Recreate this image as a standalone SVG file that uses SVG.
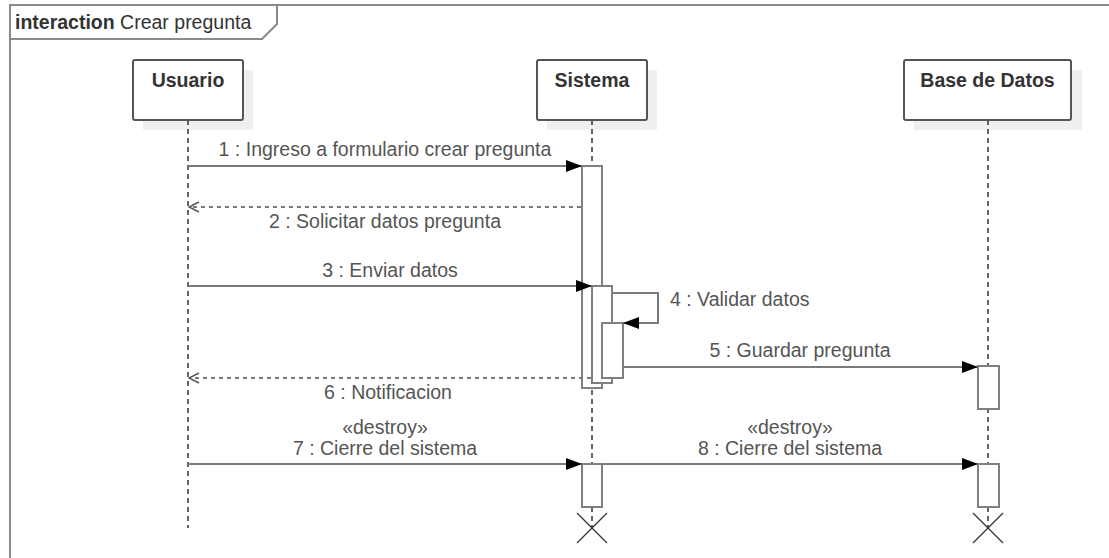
<svg xmlns="http://www.w3.org/2000/svg" width="1109" height="558" viewBox="0 0 1109 558">
<style>
  .frame{fill:none;stroke:#8a8a8a;stroke-width:2}
  .shadow{fill:#efefef}
  .head{fill:#fff;stroke:#555;stroke-width:2}
  .hl{font-family:"Liberation Sans",Arial,sans-serif;font-size:19.5px;font-weight:bold;fill:#333;text-anchor:middle}
  .life{stroke:#333;stroke-width:1.5;stroke-dasharray:5 4;fill:none}
  .act{fill:#fff;stroke:#808080;stroke-width:2}
  .msg{stroke:#7a7a7a;stroke-width:2;fill:none}
  .ret{stroke:#7a7a7a;stroke-width:2;fill:none;stroke-dasharray:4 4}
  .lbl{font-family:"Liberation Sans",Arial,sans-serif;font-size:19.5px;fill:#555;text-anchor:middle}
  .x{stroke:#333;stroke-width:1.2}
</style>
<defs>
  <marker id="filled" markerWidth="16" markerHeight="12" refX="16" refY="6" orient="auto" markerUnits="userSpaceOnUse">
    <path d="M0,0 L16,6 L0,12 Z" fill="#000"/>
  </marker>
  <marker id="open" markerWidth="12" markerHeight="12" refX="11" refY="6" orient="auto" markerUnits="userSpaceOnUse">
    <path d="M1,1 L11,6 L1,11" fill="none" stroke="#555" stroke-width="1.5"/>
  </marker>
</defs>
<rect width="1109" height="558" fill="#fff"/>
<g id="frame">
  <path class="frame" d="M10,558 V5 H1109"/>
  <path class="frame" d="M10,39 H262 L277,24 V5"/>
  <text x="15" y="29" font-family="Liberation Sans,Arial,sans-serif" font-size="19.5" fill="#333"><tspan font-weight="bold">interaction</tspan> Crear pregunta</text>
</g>
<g id="usuario">
  <rect class="shadow" x="143" y="70" width="110" height="60"/>
  <line class="life" x1="188" y1="120" x2="188" y2="528"/>
  <rect class="head" x="133" y="60" width="110" height="60" rx="2"/>
  <text class="hl" x="188" y="87">Usuario</text>
</g>
<g id="sistema">
  <rect class="shadow" x="547" y="70" width="110" height="60"/>
  <line class="life" x1="592" y1="120" x2="592" y2="528"/>
  <rect class="head" x="537" y="60" width="110" height="60" rx="2"/>
  <text class="hl" x="592" y="87">Sistema</text>
  <rect class="act" x="582" y="166" width="20" height="222"/>
  <rect class="act" x="592" y="286" width="20" height="97"/>
  <rect class="act" x="602" y="323" width="21" height="55"/>
  <rect class="act" x="582" y="464" width="20" height="43"/>
  <line class="x" x1="577" y1="513" x2="607" y2="543"/>
  <line class="x" x1="607" y1="513" x2="577" y2="543"/>
</g>
<g id="basededatos">
  <rect class="shadow" x="914" y="70" width="168" height="60"/>
  <line class="life" x1="988" y1="120" x2="988" y2="528"/>
  <rect class="head" x="904" y="60" width="167" height="60" rx="2"/>
  <text class="hl" x="987.5" y="87">Base de Datos</text>
  <rect class="act" x="978" y="366" width="21" height="43"/>
  <rect class="act" x="978" y="464" width="21" height="43"/>
  <line class="x" x1="973" y1="513" x2="1003" y2="543"/>
  <line class="x" x1="1003" y1="513" x2="973" y2="543"/>
</g>
<g id="connectors">
  <line class="msg" x1="188" y1="166" x2="582" y2="166" marker-end="url(#filled)"/>
  <text class="lbl" x="385" y="156">1 : Ingreso a formulario crear pregunta</text>
  <line class="ret" x1="581" y1="207" x2="189" y2="207" marker-end="url(#open)"/>
  <text class="lbl" x="385" y="228">2 : Solicitar datos pregunta</text>
  <line class="msg" x1="188" y1="286" x2="592" y2="286" marker-end="url(#filled)"/>
  <text class="lbl" x="390" y="277">3 : Enviar datos</text>
  <polyline class="msg" points="612,293 658,293 658,323 623,323" marker-end="url(#filled)"/>
  <text class="lbl" x="670" y="306" text-anchor="start" style="text-anchor:start">4 : Validar datos</text>
  <line class="msg" x1="623" y1="367" x2="978" y2="367" marker-end="url(#filled)"/>
  <text class="lbl" x="800" y="357">5 : Guardar pregunta</text>
  <line class="ret" x1="591" y1="378" x2="189" y2="378" marker-end="url(#open)"/>
  <text class="lbl" x="388" y="399">6 : Notificacion</text>
  <line class="msg" x1="188" y1="464" x2="582" y2="464" marker-end="url(#filled)"/>
  <text class="lbl" x="385" y="434">«destroy»</text>
  <text class="lbl" x="385" y="455">7 : Cierre del sistema</text>
  <line class="msg" x1="602" y1="464" x2="978" y2="464" marker-end="url(#filled)"/>
  <text class="lbl" x="790" y="434">«destroy»</text>
  <text class="lbl" x="790" y="455">8 : Cierre del sistema</text>
</g>
</svg>
